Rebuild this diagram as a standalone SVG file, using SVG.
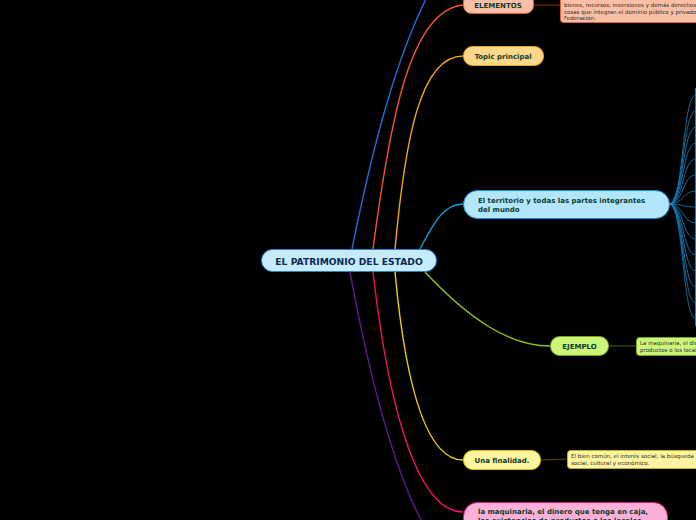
<svg xmlns="http://www.w3.org/2000/svg" width="696" height="520" viewBox="0 0 696 520">
<style>
.b{fill:none;stroke-width:1.4}
.t{font-family:"DejaVu Sans",Verdana,sans-serif;font-weight:bold;fill:#0d3b2a;font-size:7px}
.d{font-family:"DejaVu Sans",Verdana,sans-serif;font-size:5.5px;fill:#2a2a2a}
.f{fill:none;stroke:#1585c0;stroke-width:0.8}
</style>
<rect width="696" height="520" fill="#000"/>
<g id="connectors">
<path class="b" stroke="#1a6fd8" d="M352,249 C372,150 395,60 428,-5"/>
<path class="b" stroke="#f0562a" d="M373,249 C390,120 410,10 463,5"/>
<path class="b" stroke="#f5a623" d="M395,249 C405,140 420,56 463,56"/>
<path class="b" stroke="#1aa0e0" d="M420,249 C435,220 445,204 463,204"/>
<path class="b" stroke="#8fc31f" d="M425,272 C470,320 510,346 550,346"/>
<path class="b" stroke="#f0d010" d="M395,272 C405,380 425,460 463,460"/>
<path class="b" stroke="#f0106a" d="M373,272 C390,420 420,512 463,512"/>
<path class="b" stroke="#5a1a8a" d="M350,272 C370,380 395,470 422,522"/>
<path stroke="#8a2a10" stroke-width="1" d="M533,5 L560,5"/>
<path stroke="#4a6010" stroke-width="1" d="M608,346 L636,346"/>
<path stroke="#5a5010" stroke-width="1" d="M540,460 L567,459"/>
<g>
<path class="f" d="M669,204 C684,204 682,95 696,95"/>
<path class="f" d="M669,204 C684,204 682,111 696,111"/>
<path class="f" d="M669,204 C684,204 682,127 696,127"/>
<path class="f" d="M669,204 C684,204 682,143 696,143"/>
<path class="f" d="M669,204 C684,204 682,159 696,159"/>
<path class="f" d="M669,204 C684,204 682,175 696,175"/>
<path class="f" d="M669,204 C684,204 682,191 696,191"/>
<path class="f" d="M669,204 C684,204 682,207 696,207"/>
<path class="f" d="M669,204 C684,204 682,223 696,223"/>
<path class="f" d="M669,204 C684,204 682,239 696,239"/>
<path class="f" d="M669,204 C684,204 682,255 696,255"/>
<path class="f" d="M669,204 C684,204 682,271 696,271"/>
<path class="f" d="M669,204 C684,204 682,287 696,287"/>
<path class="f" d="M669,204 C684,204 682,303 696,303"/>
<path class="f" d="M669,204 C684,204 682,319 696,319"/>
<path stroke="#1585c0" stroke-width="1" d="M695.5,88 V326"/>
</g>
</g>
<g id="root">
<rect x="261.5" y="249.5" width="175" height="22" rx="11" fill="#c5ebfc" stroke="#2a7fc0"/>
<text class="t" x="349" y="264.5" style="font-size:9.2px;fill:#0d2a55" text-anchor="middle">EL PATRIMONIO DEL ESTADO</text>
</g>
<g id="elementos">
<rect x="463.5" y="-6.5" width="70" height="20" rx="8" fill="#fbbfa6" stroke="#e0623a"/>
<text class="t" x="498" y="7.5" text-anchor="middle">ELEMENTOS</text>
</g>
<g id="elementos-desc">
<rect x="560.5" y="-6.5" width="150" height="29" rx="3" fill="#fbbfa6" stroke="#e0623a"/>
<text class="d" x="564" y="7">bienes, recursos, inversiones y demás derechos</text>
<text class="d" x="564" y="13.5">cosas que integran el dominio público y privado</text>
<text class="d" x="564" y="20">Federación.</text>
</g>
<g id="topic">
<rect x="463.5" y="46.5" width="80" height="19" rx="9" fill="#fed88a" stroke="#f0a020"/>
<text class="t" x="503" y="58.5" text-anchor="middle">Topic principal</text>
</g>
<g id="territorio">
<rect x="463.5" y="190.5" width="206" height="28" rx="14" fill="#b3e5fb" stroke="#1a90d0"/>
<text class="t" x="478" y="203">El territorio y todas las partes integrantes</text>
<text class="t" x="478" y="212">del mundo</text>
</g>
<g id="ejemplo">
<rect x="550.5" y="336.5" width="58" height="19" rx="9" fill="#ccf57a" stroke="#7aa020"/>
<text class="t" x="579.5" y="348.5" text-anchor="middle">EJEMPLO</text>
</g>
<g id="ejemplo-desc">
<rect x="636.5" y="337.5" width="80" height="18" rx="3" fill="#ccf57a" stroke="#7aa020"/>
<text class="d" x="640" y="345">La maquinaria, el dinero</text>
<text class="d" x="640" y="352">productos o los locales</text>
</g>
<g id="finalidad">
<rect x="463.5" y="450.5" width="77" height="19" rx="9" fill="#fff5a0" stroke="#d0c010"/>
<text class="t" x="502" y="462.5" text-anchor="middle">Una finalidad.</text>
</g>
<g id="finalidad-desc">
<rect x="567.5" y="450.5" width="140" height="18" rx="3" fill="#fff5a0" stroke="#c0b020"/>
<text class="d" x="571" y="458">El bien común, el interés social, la búsqueda</text>
<text class="d" x="571" y="465">social, cultural y económico.</text>
</g>
<g id="maquinaria">
<rect x="463.5" y="502.5" width="204" height="32" rx="14" fill="#fbb0d8" stroke="#e0207a"/>
<text class="t" x="478" y="514">la maquinaria, el dinero que tenga en caja,</text>
<text class="t" x="478" y="523">las existencias de productos o los locales</text>
</g>
</svg>
